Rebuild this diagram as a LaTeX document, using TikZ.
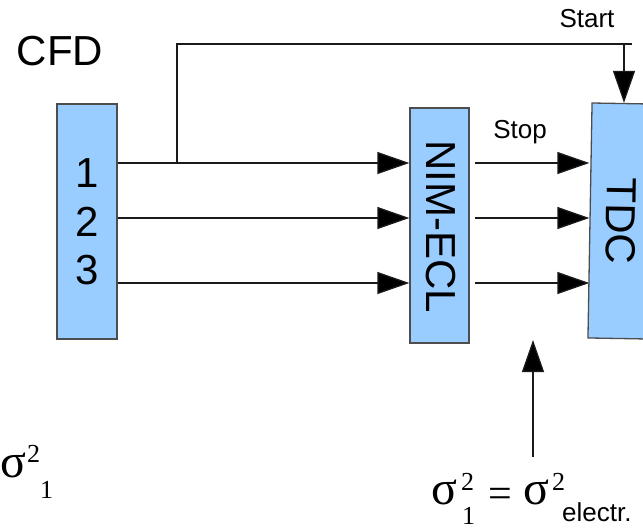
\documentclass[tikz,border=0pt]{standalone}
\usepackage{fontspec}
\setmainfont{Liberation Sans}
\newfontfamily\timesf{Liberation Serif}
\usetikzlibrary{arrows.meta, calc}
\definecolor{boxfill}{HTML}{99CCFF}
\definecolor{boxline}{HTML}{4D4D4D}
\definecolor{wire}{HTML}{1A1A1A}

% place a piece of a formula at an offset from the node origin
\newcommand{\putat}[3]{\rlap{\hspace*{#1pt}\raisebox{#2pt}{#3}}}
\newcommand{\idx}{\timesf\fontsize{26}{26}\selectfont}

\tikzset{
  module/.style={draw=boxline, fill=boxfill, line width=1.3pt,
    minimum width=60pt, minimum height=235pt, inner sep=0pt},
  sig/.style={wire, line width=1.3pt, -{Triangle[length=32pt,width=22pt,fill=black]}},
  wirel/.style={wire, line width=1.3pt},
  big/.style={font=\fontsize{42}{48.5}\selectfont},
  small/.style={font=\fontsize{26}{26}\selectfont},
  formula/.style={anchor=base west, inner sep=0pt, font=\timesf\fontsize{48}{48}\selectfont},
}

\begin{document}
\begin{tikzpicture}[x=1pt, y=-1pt]
  \useasboundingbox (0,0) rectangle (643,531);
  % the three modules
  \node[module] (cfd) at (87,221.5) {};
  \node[module, minimum width=59pt] (nim) at (439.5,225.5) {};
  \node[module, rotate=-1] (tdc) at (620,221) {};
  \node[big, align=center] (chan) at (87,222) {1\\2\\3};
  \node[big, rotate=-90] (nimtext) at (441,227) {NIM-ECL};
  \node[big, rotate=-91] (tdctext) at (621,221) {TDC};
  % labels
  \node[big, anchor=base] (cfdlabel) at (60,65) {CFD};
  \node[small, anchor=base] (startlabel) at (587,27) {Start};
  \node[small, anchor=base] (stoplabel) at (520,138) {Stop};
  % signal rows
  \coordinate (r1) at (0,163);
  \coordinate (r2) at (0,218);
  \coordinate (r3) at (0,283);
  \foreach \r in {r1,r2,r3}{
    \draw[sig] (cfd.east |- \r) -- (nim.west |- \r);
    \draw[sig] ([xshift=5pt]nim.east |- \r) -- (tdc.west |- \r);
  }
  % start branch
  \coordinate (tap) at (177,163);
  \coordinate (start) at (624,44);
  \draw[wirel] (tap) |- ([xshift=8pt]start);
  \draw[sig] (start) -- (start |- tdc.north);
  % electronics jitter
  \coordinate (jitbot) at (533,457);
  \coordinate (jittop) at (533,340);
  \draw[sig] (jitbot) -- (jittop);
  % sigmas
  \node[formula] (sigone) at (0,477)
    {\putat{0}{0}{σ}\putat{27}{15}{\idx 2}\putat{40}{-21}{\idx 1}\hspace*{56pt}};
  \node[formula] (sigeq) at (431,504)
    {\putat{0}{0}{σ}\putat{30}{14}{\idx 2}\putat{31}{-20}{\idx 1}%
     \putat{57}{-3}{\fontsize{42}{42}\selectfont =}%
     \putat{92}{0}{σ}\putat{121}{14}{\idx 2}%
     \putat{131}{-17}{\rmfamily\fontsize{26}{26}\selectfont electr.}\hspace*{199pt}};
\end{tikzpicture}
\end{document}
